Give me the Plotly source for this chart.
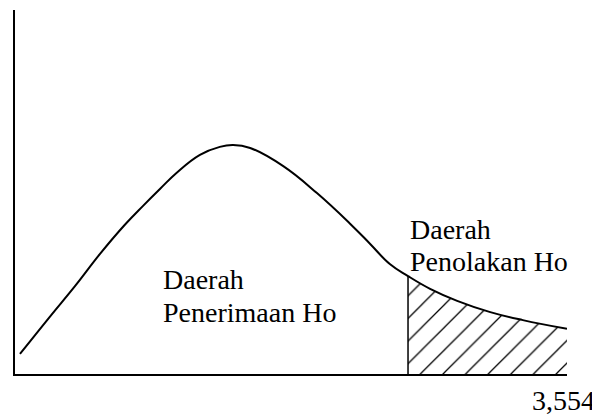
import plotly.graph_objects as go

# Curve values (arbitrary units)
curve_x = [0.09, 0.63, 1.09, 1.54, 1.99, 2.32, 2.63, 2.93, 3.35, 3.71, 3.95,
           4.26, 4.86, 5.47, 6.07, 6.43, 6.79, 7.12, 7.52, 8.01, 8.61, 9.20, 10.0]
curve_y = [0.055, 0.157, 0.242, 0.330, 0.410, 0.462, 0.509, 0.553, 0.602, 0.624, 0.629,
           0.621, 0.571, 0.497, 0.413, 0.358, 0.302, 0.269, 0.234, 0.201, 0.170, 0.148, 0.124]

critical_index = 17            # start of rejection region (x = 7.12)
critical_label = "3,554"
label_x = 9.94

accept_lines = ["Daerah", "Penerimaan Ho"]
reject_lines = ["Daerah", "Penolakan Ho"]

FONT = "'Liberation Serif', 'Times New Roman', Tinos, 'DejaVu Serif', 'Noto Serif', serif"

hx = curve_x[critical_index:]
hy = curve_y[critical_index:]

fig = go.Figure()

# hatched rejection region
fig.add_trace(go.Scatter(
    x=hx, y=hy, mode="lines", line=dict(width=0, shape="spline", color="black"),
    fill="tozeroy", fillcolor="rgba(0,0,0,0)",
    fillpattern=dict(shape="/", fgcolor="black", bgcolor="white",
                     size=16, solidity=0.08, fgopacity=1),
    hoverinfo="skip", showlegend=False))

# vertical boundary line
fig.add_trace(go.Scatter(
    x=[hx[0], hx[0]], y=[0, hy[0]], mode="lines",
    line=dict(color="black", width=1.5), showlegend=False, hoverinfo="skip"))

# density curve
fig.add_trace(go.Scatter(
    x=curve_x, y=curve_y, mode="lines",
    line=dict(color="black", width=2, shape="spline", smoothing=1.2),
    showlegend=False, hoverinfo="skip"))

annotations = []
for i, t in enumerate(accept_lines):
    annotations.append(dict(x=2.645, y=[0.259, 0.168][i], text=t, xanchor="left",
                            yanchor="middle", yref="y"))
for i, t in enumerate(reject_lines):
    annotations.append(dict(x=hx[0], y=[0.396, 0.308][i], text=t, xanchor="left",
                            yanchor="middle", yref="y"))
annotations.append(dict(x=label_x, y=-0.072, text=critical_label, xanchor="center",
                        yanchor="middle", yref="paper"))
for a in annotations:
    a.update(xref="x", showarrow=False,
             font=dict(family=FONT, size=28, color="black"))

fig.update_layout(
    width=600, height=415,
    margin=dict(l=7, r=41, t=2, b=49),
    paper_bgcolor="white", plot_bgcolor="white",
    font=dict(family=FONT),
    xaxis=dict(range=[0, 10], showline=True, linecolor="black", linewidth=2,
               showgrid=False, zeroline=False, showticklabels=False, ticks=""),
    yaxis=dict(range=[0, 1], showline=True, linecolor="black", linewidth=2,
               showgrid=False, zeroline=False, showticklabels=False, ticks=""),
    annotations=annotations,
)

fig.write_html("out.html")
